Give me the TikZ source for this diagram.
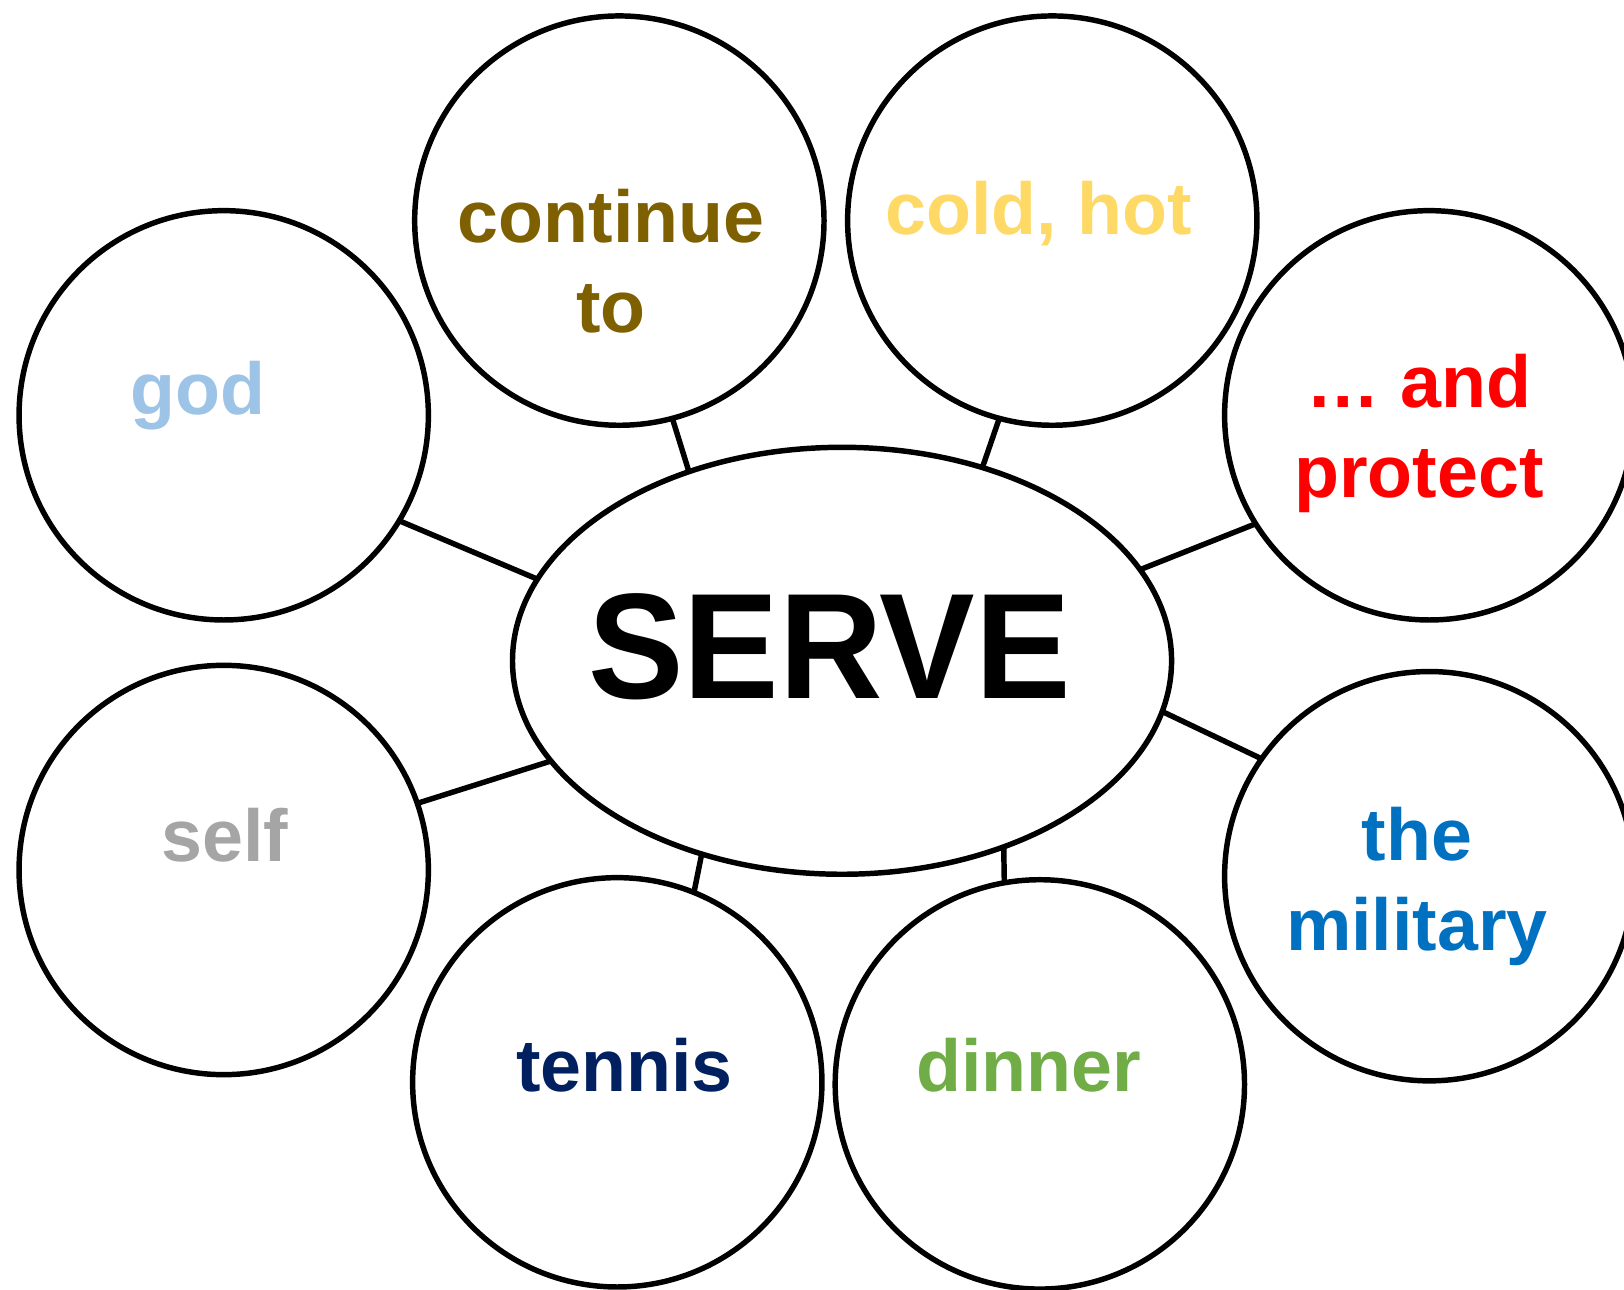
\documentclass[tikz,border=0pt]{standalone}
\usepackage{fontspec}
\setmainfont{Liberation Sans}
\usetikzlibrary{shapes.geometric}
\definecolor{godblue}{HTML}{9DC3E6}
\definecolor{selfgrey}{HTML}{A5A5A5}
\definecolor{tennisblue}{HTML}{002060}
\definecolor{dinnergreen}{HTML}{70AD47}
\definecolor{militaryblue}{HTML}{0070C0}
\definecolor{protectred}{HTML}{FF0000}
\definecolor{coldyellow}{HTML}{FFD966}
\definecolor{continuebrown}{HTML}{7F6000}
\begin{document}
\begin{tikzpicture}[
				x=0.01cm, y=-0.01cm,
				line width=1.5pt,
				bubble/.style={circle, draw, minimum size=3.95cm, inner sep=0pt, outer sep=0pt},
				word/.style={font=\fontsize{20.2pt}{24.7pt}\selectfont\bfseries, align=center, anchor=base, inner sep=0pt},
				]
				\useasboundingbox (0,0) rectangle (1568,1245.5);
				\node [ellipse, draw, minimum width=6.36cm, minimum height=4.12cm, inner sep=0pt, outer sep=0pt] (serve) at (813,638) {};
				\node [anchor=base, inner sep=0pt, font=\fontsize{39.3pt}{41pt}\selectfont\bfseries] (servetext) at (801,674) {\scalebox{1}[1.05]{SERVE}};
				\node [bubble] (cont) at (598,213) {};
				\node [bubble] (cold) at (1016,213) {};
				\node [bubble] (god) at (216,401) {};
				\node [bubble] (prot) at (1380,401) {};
				\node [bubble] (self) at (216,840) {};
				\node [bubble] (mil) at (1380,846) {};
				\node [bubble] (ten) at (596,1045) {};
				\node [bubble] (din) at (1004,1047) {};
				% base of a two line word is its last line
				\node [word, continuebrown] (conttext) at (590,321) {continue\\to};
				\node [word, coldyellow] (coldtext) at (1003,226) {cold, hot};
				\node [word, godblue] (godtext) at (191,400) {god};
				\node [word, protectred] (prottext) at (1370,480) {… and\\protect};
				\node [word, selfgrey] (selftext) at (217,832) {self};
				\node [word, militaryblue] (miltext) at (1368,918) {the\\military};
				\node [word, tennisblue] (tentext) at (603,1054) {tennis};
				\node [word, dinnergreen] (dintext) at (993,1054) {dinner};
				\draw (cont.-75.8) -- (serve.129);
				\draw (cold.255.5) -- (serve.54.5);
				\draw (god.-31.1) -- (serve.165);
				\draw (prot.212.3) -- (serve.17.3);
				\draw (self.19.2) -- (serve.199);
				\draw (mil.145.5) -- (serve.-9.3);
				\draw (ten.68.9) -- (serve.234.2);
				\draw (din.100.5) -- (serve.-49.8);
\end{tikzpicture}
\end{document}
